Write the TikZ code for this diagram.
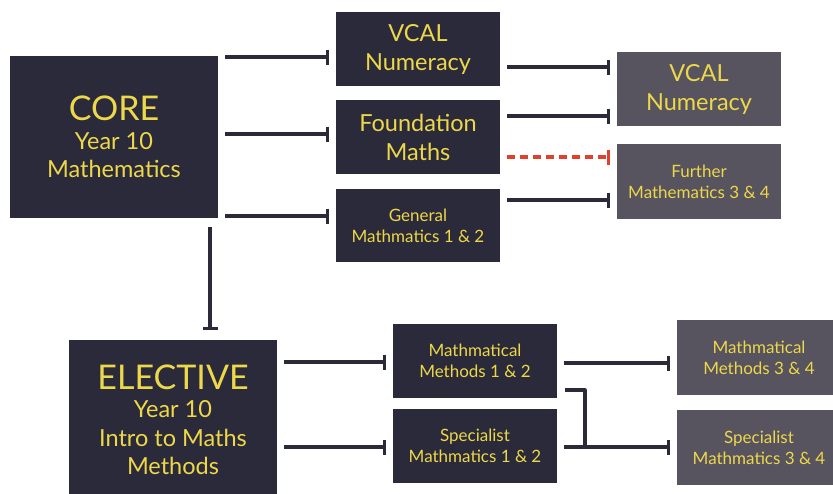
\documentclass[tikz,border=0pt]{standalone}
\usepackage{fontspec}
\setmainfont{Lato}
\usetikzlibrary{arrows.meta}
\definecolor{navy}{HTML}{2B2A3A}
\definecolor{slate}{HTML}{57535F}
\definecolor{gold}{HTML}{EDD84A}
\definecolor{ink}{HTML}{2A2A38}
\definecolor{dashred}{HTML}{E0412E}

\begin{document}
\begin{tikzpicture}[x=1pt, y=-1pt, line join=round,
    box/.style={fill=navy, text=gold, align=center, inner sep=0pt,
      minimum width=164pt, minimum height=74pt},
    bigbox/.style={box, minimum width=208pt, minimum height=162pt,
      font=\fontsize{23.5}{28.5}\selectfont},
    endbox/.style={box, fill=slate},
    large/.style={font=\fontsize{23.5}{29}\selectfont},
    small/.style={font=\fontsize{17}{21}\selectfont},
    link/.style={draw=ink, line width=3.2pt, -{Bar[width=15pt,line width=3.2pt]},
      shorten <=7pt, shorten >=7pt},
    redlink/.style={link, draw=dashred, dash pattern=on 8pt off 5pt},
    plain/.style={draw=ink, line width=3.2pt}]
    % page
    \useasboundingbox[fill=white] (0,0) rectangle (833,493);

    % first year
    \node[bigbox] (core) at (114,137) {{\fontsize{34}{36}\selectfont CORE}\\ Year 10\\ Mathematics};
    \node[bigbox, minimum height=160pt] (elective) at (173,420) {{\fontsize{34}{36}\selectfont ELECTIVE}\\ Year 10\\ Intro to Maths\\ Methods};

    % units 1 & 2
    \node[box, large] (vcalA) at (418,49) {VCAL\\ Numeracy};
    \node[box, large] (found) at (418,137) {Foundation\\ Maths};
    \node[box, small, minimum height=73pt] (general) at (418,225.5) {General\\ Mathmatics 1 \& 2};
    \node[box, small] (methodsA) at (475,361) {Mathmatical\\ Methods 1 \& 2};
    \node[box, small] (specA) at (475,446) {Specialist\\ Mathmatics 1 \& 2};

    % units 3 & 4
    \node[endbox, large] (vcalB) at (699,89) {VCAL\\ Numeracy};
    \node[endbox, small, minimum height=75pt] (further) at (699,181.5) {Further\\ Mathematics 3 \& 4};
    \node[endbox, small, minimum height=75pt] (methodsB) at (759,357.5) {Mathmatical\\ Methods 3 \& 4};
    \node[endbox, small, minimum height=75pt] (specB) at (759,447.5) {Specialist\\ Mathmatics 3 \& 4};

    % pathways
    \draw[link] (core.east |- 0,57) -- (vcalA.west |- 0,57);
    \draw[link] (core.east |- 0,134) -- (found.west |- 0,134);
    \draw[link] (core.east |- 0,216) -- (general.west |- 0,216);
    \draw[link, shorten <=9pt, shorten >=10pt] (core.south -| 210,0) -- (elective.north -| 210,0);

    \draw[link] (vcalA.east |- 0,67) -- (vcalB.west |- 0,67);
    \draw[link] (found.east |- 0,116) -- (vcalB.west |- 0,116);
    \draw[redlink] (found.east |- 0,157) -- (further.west |- 0,157);
    \draw[link] (general.east |- 0,200) -- (further.west |- 0,200);

    \draw[link] (elective.east |- 0,362) -- (methodsA.west |- 0,362);
    \draw[link] (elective.east |- 0,447) -- (specA.west |- 0,447);
    \draw[link] (methodsA.east |- 0,363) -- (methodsB.west |- 0,363);
    \draw[link] (specA.east |- 0,447) -- (specB.west |- 0,447);
    \coordinate (join) at (585,447);
    \draw[plain] ([xshift=8pt]methodsA.east |- 0,390) -| (join);
\end{tikzpicture}
\end{document}
